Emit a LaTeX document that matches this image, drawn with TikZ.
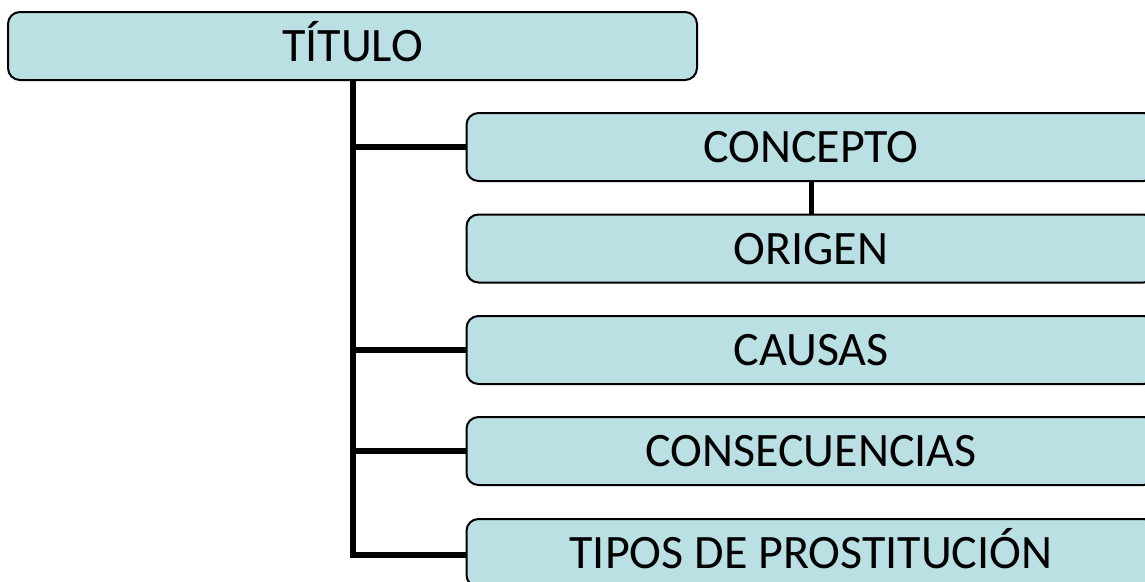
\documentclass[tikz,border=0pt]{standalone}
\usepackage{fontspec}
\setmainfont{Carlito}
\definecolor{boxfill}{RGB}{187,224,227}
\begin{document}
\begin{tikzpicture}[x=1pt,y=-1pt,
  box/.style={draw=black,line width=2pt,fill=boxfill,rounded corners=12pt,
    minimum width=689pt,minimum height=68pt,inner sep=0pt,
    text height=31pt,text depth=0pt,font=\fontsize{48}{52}\selectfont},
  conn/.style={line width=6pt,line join=miter,black}]
\useasboundingbox (0,0) rectangle (1145,581);
\clip (0,0) rectangle (1145,581);
\node[box] (title) at (352.5,46) {TÍTULO};
\node[box] (concepto) at (811,147) {CONCEPTO};
\node[box] (origen) at (811,248.5) {ORIGEN};
\node[box] (causas) at (811,350) {CAUSAS};
\node[box] (consec) at (811,451) {CONSECUENCIAS};
\node[box] (tipos) at (811,553) {TIPOS DE PROSTITUCIÓN};
\draw[conn] (title.south) |- (concepto.west);
\draw[conn] (title.south) |- (causas.west);
\draw[conn] (title.south) |- (consec.west);
\draw[conn] (title.south) |- ([yshift=-2pt]tipos.west);
\draw[line width=5pt] (concepto.south) -- (origen.north);
\end{tikzpicture}
\end{document}
